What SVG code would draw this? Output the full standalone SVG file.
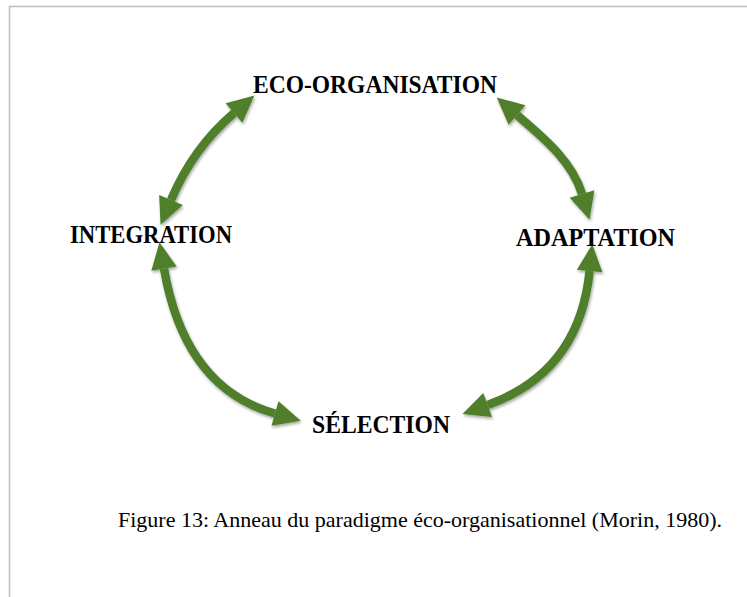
<svg xmlns="http://www.w3.org/2000/svg" width="747" height="597" viewBox="0 0 747 597">
<style>
.lbl{font-family:"Liberation Serif","Times New Roman",serif;font-weight:bold;font-size:24.5px;fill:#000}
.cap{font-family:"Liberation Serif","Times New Roman",serif;font-size:21.5px;fill:#000}
.arc{fill:none;stroke:#4f7f2a;stroke-width:8.5;stroke-linecap:butt}
.frame{stroke:#bdbdbd;stroke-width:1.5;fill:none}
</style>
<defs>
<marker id="head" markerUnits="userSpaceOnUse" markerWidth="30" markerHeight="30" viewBox="-2 -14 28 28" refX="0" refY="0" orient="auto-start-reverse">
<path d="M0,-12 L25,0 L0,12 Z" fill="#4f7f2a"/>
</marker>
<filter id="sh" x="-20%" y="-20%" width="140%" height="140%">
<feDropShadow dx="1" dy="2" stdDeviation="1.5" flood-color="#000" flood-opacity="0.35"/>
</filter>
</defs>
<rect width="747" height="597" fill="#fff"/>
<path class="frame" d="M9.5,597 V6.5 H747"/>
<g id="connectors" filter="url(#sh)">
<path class="arc" d="M234,113 Q193,148 171,200" marker-start="url(#head)" marker-end="url(#head)"/>
<path class="arc" d="M517,115 C540,135 572,160 582,194" marker-start="url(#head)" marker-end="url(#head)"/>
<path class="arc" d="M589.6,271 Q579.5,372 487.6,405" marker-start="url(#head)" marker-end="url(#head)"/>
<path class="arc" d="M164,268.6 Q184.6,388 275,413.5" marker-start="url(#head)" marker-end="url(#head)"/>
</g>
<g id="eco-organisation"><text class="lbl" x="253" y="93" textLength="244" lengthAdjust="spacingAndGlyphs">ECO-ORGANISATION</text></g>
<g id="integration"><text class="lbl" x="70" y="243" textLength="162" lengthAdjust="spacingAndGlyphs">INTEGRATION</text></g>
<g id="adaptation"><text class="lbl" x="516" y="246" textLength="159" lengthAdjust="spacingAndGlyphs">ADAPTATION</text></g>
<g id="selection"><text class="lbl" x="312" y="433" textLength="138" lengthAdjust="spacingAndGlyphs">SÉLECTION</text></g>
<g id="caption"><text class="cap" x="118" y="527" textLength="604" lengthAdjust="spacingAndGlyphs">Figure 13: Anneau du paradigme éco-organisationnel (Morin, 1980).</text></g>
</svg>
